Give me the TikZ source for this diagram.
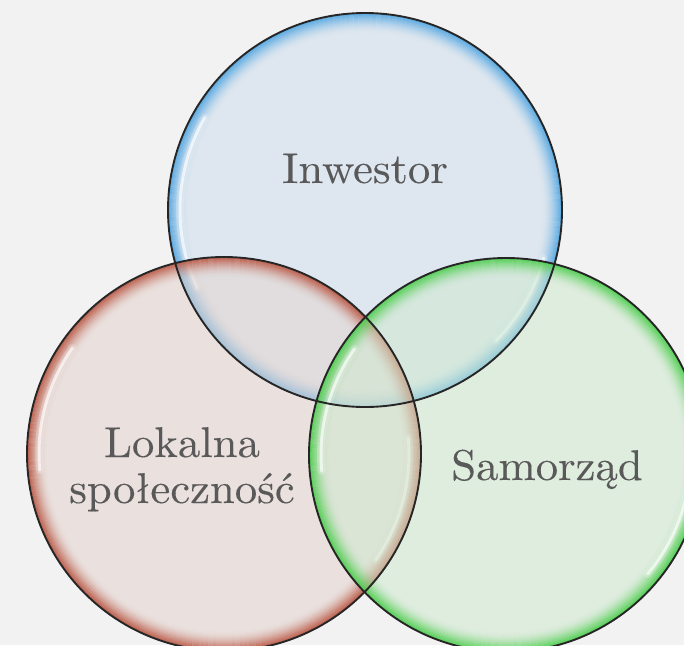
\documentclass[tikz,border=0pt]{standalone}
\usepackage{fontspec}
\newfontfamily\lblfont{lmroman10-regular.otf}[FakeStretch=1.04, FakeBold=0.2]
\definecolor{bgc}{HTML}{F2F2F2}
\definecolor{txtc}{HTML}{595959}
\definecolor{bluein}{RGB}{206,222,240}
\definecolor{bluerim}{RGB}{80,165,225}
\definecolor{redin}{RGB}{229,212,206}
\definecolor{redrim}{RGB}{185,85,65}
\definecolor{greenin}{RGB}{208,234,208}
\definecolor{greenrim}{RGB}{75,205,75}
\tikzset{
  lbl/.style={font=\lblfont\fontsize{43}{46}\selectfont, text=txtc, inner sep=0pt},
  outline/.style={draw=black!85, line width=1.9pt},
  gloss/.style={draw=white, line cap=round},
}
\newcommand\mybubble[5]{% center, inner colour, rim colour, left arc, right arc
  \fill[#2, fill opacity=0.55] (#1) circle[radius=197pt];
  \foreach \k [evaluate=\k as \op using {0.9*(1-\k/20)^2}] in {0,...,19}
    \draw[#3, line width=1.2pt, draw opacity=\op] (#1) circle[radius={(196.5-\k*1.0)*1pt}];
  \foreach \a/\b in {#4,#5} {
    \draw[gloss, line width=8pt, draw opacity=0.2] (#1) ++(\a:185pt) arc[start angle=\a, end angle=\b, radius=185pt];
    \draw[gloss, line width=3pt, draw opacity=0.65] (#1) ++(\a:185pt) arc[start angle=\a, end angle=\b, radius=185pt];
  }
}
\begin{document}
\begin{tikzpicture}[x=1pt,y=-1pt]
\useasboundingbox (0,0) rectangle (684,645);
\fill[bgc] (0,0) rectangle (684,645);
\clip (0,0) rectangle (684,645);
\coordinate (cb) at (365,210);
\coordinate (cr) at (224,454);
\coordinate (cg) at (506,455);
\mybubble{cb}{bluein}{bluerim}{150/205}{-45/-15}
\mybubble{cr}{redin}{redrim}{145/185}{-35/5}
\mybubble{cg}{greenin}{greenrim}{145/185}{-40/-10}
\draw[outline] (cb) circle[radius=197pt];
\draw[outline] (cr) circle[radius=197pt];
\draw[outline] (cg) circle[radius=197pt];
\node[lbl, anchor=base] (tinw) at (365,183) {Inwestor};
\node[lbl, anchor=base] (tlok1) at (182,457) {Lokalna};
\node[lbl, anchor=base] (tlok2) at (182,503) {społeczność};
\node[lbl, anchor=base] (tsam) at (547,480) {Samorząd};
\end{tikzpicture}
\end{document}
